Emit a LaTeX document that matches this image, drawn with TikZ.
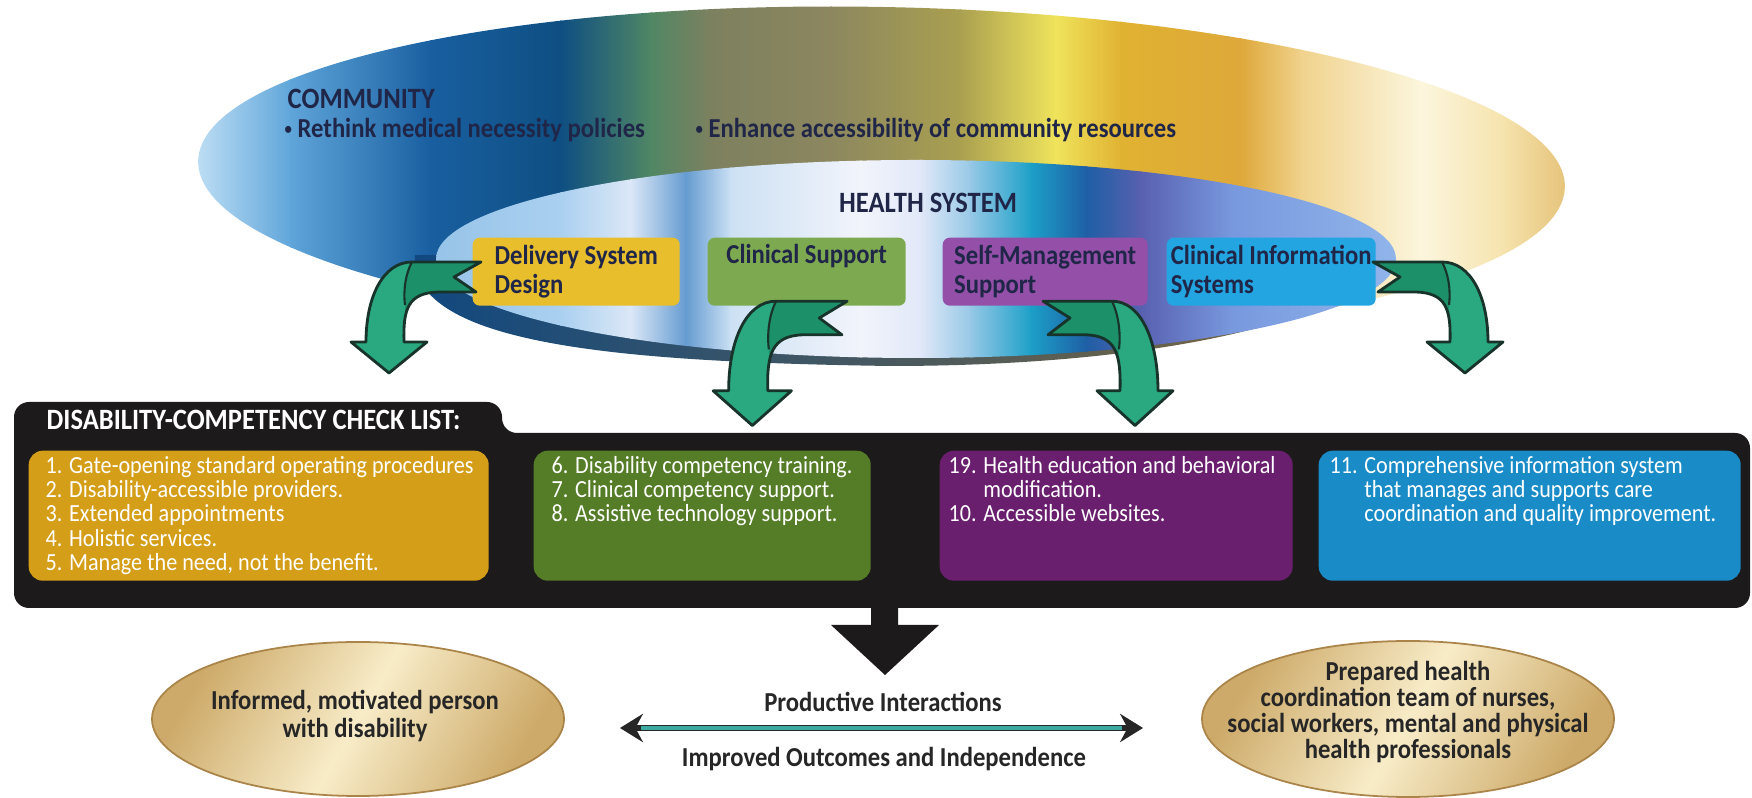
\documentclass[tikz,border=0pt]{standalone}
\usepackage{fontspec}
\setmainfont{Carlito}
\newfontfamily\narrowfont{Carlito}[FakeStretch=0.9]
\usepackage{xcolor}
\usepackage{graphicx}
\usetikzlibrary{shapes.geometric,arrows.meta}

\definecolor{comm0}{RGB}{196,226,246}
\definecolor{comm1}{RGB}{95,165,218}
\definecolor{comm2}{RGB}{25,95,160}
\definecolor{comm3}{RGB}{14,78,130}
\definecolor{comm4}{RGB}{80,135,100}
\definecolor{comm5}{RGB}{125,128,95}
\definecolor{comm6}{RGB}{140,135,95}
\definecolor{comm7}{RGB}{170,160,80}
\definecolor{comm8}{RGB}{240,228,92}
\definecolor{comm9}{RGB}{224,178,50}
\definecolor{comm10}{RGB}{222,168,58}
\definecolor{comm11}{RGB}{240,210,140}
\definecolor{comm12}{RGB}{252,246,222}
\definecolor{comm13}{RGB}{246,228,175}
\definecolor{comm14}{RGB}{228,192,118}
\definecolor{hs0}{RGB}{150,195,232}
\definecolor{hs1}{RGB}{170,208,240}
\definecolor{hs2}{RGB}{220,232,247}
\definecolor{hs3}{RGB}{100,155,208}
\definecolor{hs4}{RGB}{205,225,244}
\definecolor{hs5}{RGB}{242,244,251}
\definecolor{hs6}{RGB}{225,232,248}
\definecolor{hs7}{RGB}{150,200,230}
\definecolor{hs8}{RGB}{28,160,200}
\definecolor{hs9}{RGB}{30,95,165}
\definecolor{hs10}{RGB}{88,96,175}
\definecolor{hs11}{RGB}{120,152,222}
\definecolor{hs12}{RGB}{145,182,235}
\definecolor{rimblue}{RGB}{16,72,128}
\definecolor{rimgrey}{RGB}{60,88,110}
\definecolor{rimbrown}{RGB}{130,105,60}
\definecolor{navy}{RGB}{32,38,72}
\definecolor{dsgold}{RGB}{232,190,45}
\definecolor{csgreen}{RGB}{125,170,80}
\definecolor{smpurple}{RGB}{148,80,168}
\definecolor{ciblue}{RGB}{35,165,225}
\definecolor{listgold}{RGB}{213,158,25}
\definecolor{listgreen}{RGB}{85,125,40}
\definecolor{listpurple}{RGB}{105,30,110}
\definecolor{listblue}{RGB}{25,140,200}
\definecolor{panel}{RGB}{28,26,26}
\definecolor{arrowlight}{RGB}{42,168,128}
\definecolor{arrowdeep}{RGB}{28,145,105}
\definecolor{arrowedge}{RGB}{24,52,42}
\definecolor{linkteal}{RGB}{60,170,160}
\definecolor{goldpale}{RGB}{248,236,200}
\definecolor{golddeep}{RGB}{205,170,105}
\definecolor{goldedge}{RGB}{170,132,72}

\newcommand{\smallbullet}{\raisebox{0.25ex}{\scalebox{0.6}{\textbullet}}}
\newcommand{\bendoutline}{(-.03,-.15) -- (.66,-.15) .. controls (.95,-.15) and (1.12,.2) .. (1.12,.65) -- (1.27,.65) -- (.89,.96) -- (.51,.65) -- (.74,.65) .. controls (.75,.32) and (.70,.16) .. (.40,.15) -- (.02,.15) -- (.24,0) -- cycle}

\tikzset{
  heading/.style={inner sep=0pt, text=navy, font=\narrowfont\bfseries\fontsize{8.4}{9}\selectfont},
  sublabel/.style={inner sep=0pt, text=navy, font=\narrowfont\bfseries\fontsize{7.8}{8.2}\selectfont},
  topbox/.style={anchor=north west, rounded corners=2pt, minimum height=0.68cm, inner xsep=0.02cm,
    inner ysep=0.02cm, align=left, text=navy, font=\narrowfont\bfseries\fontsize{7.8}{8.2}\selectfont},
  listbox/.style={anchor=north west, rounded corners=4pt, minimum height=1.30cm, inner sep=0pt},
  listtext/.style={anchor=north west, inner sep=0pt, text=white, font=\narrowfont\fontsize{7}{6.65}\selectfont},
  goldoval/.style={ellipse, draw=goldedge, line width=0.5pt, left color=golddeep, right color=golddeep,
    middle color=goldpale, shading angle=60, inner sep=0pt},
  ovaltext/.style={inner sep=0pt, align=center, text=black!85,
    font=\narrowfont\bfseries\fontsize{7.8}{8}\selectfont},
  pics/bend arrow/.style={code={
    \fill[arrowlight] \bendoutline;
    \begin{scope}
      \clip \bendoutline;
      \fill[arrowdeep] (-.1,-.3) -- (.64,-.3) -- (.66,-.15) .. controls (.72,-.04) and (.75,.12) .. (.73,.28) -- (.72,.5) -- (-.1,.5) -- cycle;
    \end{scope}
    \draw[arrowedge, line width=.6pt] (.66,-.15) .. controls (.72,-.04) and (.75,.12) .. (.73,.28);
    \draw[arrowedge, line width=.8pt, line join=round] \bendoutline;
  }}
}

\begin{document}
\begin{tikzpicture}[x=1cm, y=-1cm]
  \useasboundingbox (0,0) rectangle (17.52,7.98);
  \fill[white] (0,0) rectangle (17.52,7.98);

  \begin{scope}
    \clip[rotate around={-1.1:(8.815,1.74)}] (8.815,1.74) ellipse [x radius=6.835, y radius=1.67];
    \foreach \xa/\xb/\ca/\cb in {1.9/2.9/comm0/comm1, 2.9/4.3/comm1/comm2, 4.3/5.6/comm2/comm3,
        5.6/6.5/comm3/comm4, 6.5/7.1/comm4/comm5, 7.1/8.3/comm5/comm6, 8.3/9.6/comm6/comm7,
        9.6/10.55/comm7/comm8, 10.55/11.2/comm8/comm9, 11.2/12.4/comm9/comm10, 12.4/13.0/comm10/comm11,
        13.0/14.2/comm11/comm12, 14.2/15.0/comm12/comm13, 15.0/15.7/comm13/comm14}
      \shade[left color=\ca, right color=\cb] (\xa,0) rectangle ({\xb+0.02},3.6);
  \end{scope}

  \shade[left color=rimblue, middle color=rimgrey, right color=rimbrown]
    (4.15,2.55) .. controls (4.1,3.45) and (6.2,3.62) .. (8.9,3.66)
    .. controls (11.6,3.66) and (13.5,3.2) .. (13.8,2.62) -- cycle;

  \begin{scope}
    \clip (9.16,2.59) ellipse [x radius=4.8, y radius=0.99];
    \foreach \xa/\xb/\ca/\cb in {4.3/5.6/hs0/hs1, 5.6/6.3/hs1/hs2, 6.3/6.85/hs2/hs3, 6.85/7.3/hs3/hs4,
        7.3/8.6/hs4/hs5, 8.6/9.2/hs5/hs6, 9.2/9.7/hs6/hs7, 9.7/10.3/hs7/hs8, 10.3/10.85/hs8/hs9,
        10.85/11.4/hs9/hs10, 11.4/12.3/hs10/hs11, 12.3/14.0/hs11/hs12}
      \shade[left color=\ca, right color=\cb] (\xa,1.5) rectangle ({\xb+0.02},3.7);
  \end{scope}

  \node[heading, anchor=base west] (community) at (2.87,1.09) {COMMUNITY};
  \node[sublabel, anchor=base west] (rethink) at (2.84,1.38) {\smallbullet\ Rethink medical necessity policies};
  \node[sublabel, anchor=base west] (enhance) at (6.95,1.38) {\smallbullet\ Enhance accessibility of community resources};
  \node[heading, anchor=base] (health) at (9.28,2.13) {HEALTH SYSTEM};

  \node[topbox, fill=dsgold, minimum width=2.07cm] (design) at (4.72,2.37) {Delivery System\\Design};
  \node[topbox, fill=csgreen, minimum width=1.98cm, text depth=0.35cm] (clinical) at (7.07,2.37) {Clinical Support};
  \node[topbox, fill=smpurple, minimum width=2.05cm] (selfmgmt) at (9.42,2.37) {Self-Management\\Support};
  \node[topbox, fill=ciblue, minimum width=2.09cm] (infosys) at (11.66,2.37) {Clinical Information\\Systems};

  \pic[xscale=-1] at (4.78,2.77) {bend arrow};
  \pic[xscale=-1.03, yscale=1.12] at (8.44,3.18) {bend arrow};
  \pic[yscale=1.12] at (10.46,3.18) {bend arrow};
  \pic at (13.76,2.77) {bend arrow};

  \fill[panel, rounded corners=0.15cm] (0.14,6.08) -- (0.14,4.02) -- (5.02,4.02) -- (5.02,4.33) -- (17.50,4.33) -- (17.50,6.08) -- cycle;
  \node[heading, text=white, anchor=base west] (checklist) at (0.46,4.30) {DISABILITY-COMPETENCY CHECK LIST:};

  \node[listbox, fill=listgold, minimum width=4.60cm] (gatebox) at (0.28,4.50) {};
  \node[listbox, fill=listgreen, minimum width=3.37cm] (trainbox) at (5.33,4.50) {};
  \node[listbox, fill=listpurple, minimum width=3.53cm] (edubox) at (9.39,4.50) {};
  \node[listbox, fill=listblue, minimum width=4.22cm] (infobox) at (13.18,4.50) {};

  \node[listtext] (gatelist) at (0.45,4.56) {\begin{tabular}{@{}l@{ }l@{}}
    1. & Gate-opening standard operating procedures\\
    2. & Disability-accessible providers.\\
    3. & Extended appointments\\
    4. & Holistic services.\\
    5. & Manage the need, not the benefit.
  \end{tabular}};
  \node[listtext] (trainlist) at (5.51,4.56) {\begin{tabular}{@{}l@{ }l@{}}
    6. & Disability competency training.\\
    7. & Clinical competency support.\\
    8. & Assistive technology support.
  \end{tabular}};
  \node[listtext] (edulist) at (9.48,4.56) {\begin{tabular}{@{}l@{ }l@{}}
    19. & Health education and behavioral\\
        & modification.\\
    10. & Accessible websites.
  \end{tabular}};
  \node[listtext] (infolist) at (13.29,4.56) {\begin{tabular}{@{}l@{ }l@{}}
    11. & Comprehensive information system\\
        & that manages and supports care\\
        & coordination and quality improvement.
  \end{tabular}};

  \fill[panel] (8.71,6.0) -- (8.71,6.25) -- (8.31,6.25) -- (8.85,6.75) -- (9.39,6.25) -- (8.98,6.25) -- (8.98,6.0) -- cycle;

  \node[goldoval, minimum width=4.12cm, minimum height=1.54cm] (person) at (3.58,7.19) {};
  \node[ovaltext] (persontext) at (3.55,7.16) {Informed, motivated person\\with disability};
  \node[goldoval, minimum width=4.12cm, minimum height=1.56cm] (team) at (14.08,7.19) {};
  \node[ovaltext, font=\narrowfont\bfseries\fontsize{7.8}{7.4}\selectfont] (teamtext) at (14.08,7.12) {Prepared health\\coordination team of nurses,\\social workers, mental and physical\\health professionals};

  \coordinate (linkl) at (6.20,7.28);
  \coordinate (linkr) at (11.43,7.28);
  \draw[line width=1.6pt, black!85, {Stealth[length=6.5pt,width=8pt]}-{Stealth[length=6.5pt,width=8pt]}] (linkl) -- (linkr);
  \draw[line width=0.9pt, linkteal, shorten <=6pt, shorten >=6pt] (linkl) -- (linkr);
  \node[sublabel, text=black!85, anchor=base] (interact) at (8.83,7.12) {Productive Interactions};
  \node[sublabel, text=black!85, anchor=base] (outcome) at (8.84,7.67) {Improved Outcomes and Independence};
\end{tikzpicture}
\end{document}
